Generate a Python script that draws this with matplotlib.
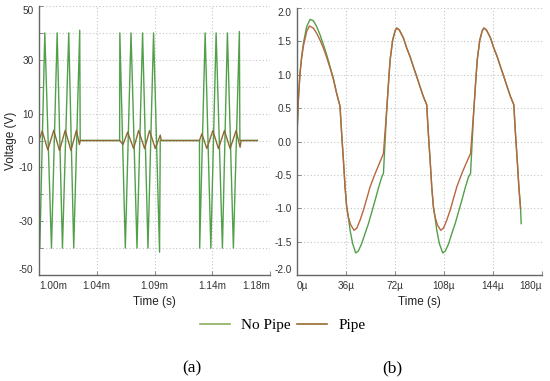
import numpy as np
import matplotlib
matplotlib.use("Agg")
import matplotlib.pyplot as plt
from matplotlib.lines import Line2D

plt.rcParams['font.family'] = ['Liberation Sans', 'DejaVu Sans']
plt.rcParams['axes.unicode_minus'] = False

# ---- panel (a): burst signal, time in ms, voltage in V ----
t_a_nopipe = [1.0, 1.00062, 1.00451, 1.00972, 1.01415, 1.01827, 1.02317, 1.02706, 1.03173, 1.0321,
              1.06283, 1.06299, 1.06726, 1.07170, 1.07636, 1.08072, 1.08491, 1.08927, 1.09393, 1.09448,
              1.12504, 1.12520, 1.12947, 1.13390, 1.13802, 1.14292, 1.14681, 1.15148, 1.15614, 1.15653,
              1.17014]
v_a_nopipe = [-30, -40, 40, -40, 40, -40, 40, -40, 41, 0,
              0, 40, -40, 40, -40, 40, -40, 40, -41.5, 0,
              0, -40, 40, -40, 40, -40, 40, -40, 40.5, 0,
              0]

t_a_pipe = [1.0, 1.00249, 1.00684, 1.01151, 1.01594, 1.02045, 1.02488, 1.02916, 1.03149, 1.03212,
            1.06283, 1.06547, 1.06905, 1.07372, 1.07760, 1.08227, 1.08616, 1.09059, 1.09448, 1.09526,
            1.12504, 1.12691, 1.13079, 1.13546, 1.13981, 1.14448, 1.14891, 1.15358, 1.15669, 1.15747,
            1.17014]
v_a_pipe = [0, 3.5, -3.5, 3.8, -3.7, 3.8, -3.7, 3.8, -1.5, 0,
            0, -1.5, 3.1, -3.0, 3.7, -3.0, 3.7, -3.0, 2.0, 0,
            0, 2.5, -3.0, 3.7, -3.0, 3.7, -3.0, 3.7, -2.5, 0,
            0]

a_xticks = [1.0, 1.045, 1.09, 1.135, 1.18]
a_xlabels = ['1.00m', '1.04m', '1.09m', '1.14m', '1.18m']
a_yticks = [-50, -40, -30, -20, -10, 0, 10, 20, 30, 40, 50]
a_ylabels = ['-50', '', '-30', '', '-10', '0', '10', '', '30', '', '50']

# ---- panel (b): zoomed waveform, time in us ----
t_b_nopipe = [0, 1.0, 2.2, 3.4, 4.7, 7.1, 9.6, 12.0, 14.5, 16.9, 19.4, 21.8, 24.3, 26.7, 29.2, 31.6,
              32.8, 34.1, 35.3, 36.5, 37.7, 39.0, 40.9, 43.1, 45.1, 47.5, 50.0, 52.5, 54.9, 57.4, 59.8, 62.3, 63.5,
              65.9, 67.2, 68.4, 70.3, 72.1, 73.3, 75.2, 78.2, 80.6, 83.1, 85.5, 88.0, 90.4, 92.9, 95.3,
              96.5, 97.8, 99.0, 100.2, 101.4, 102.7, 104.6, 107.1, 109.0, 111.4, 113.7, 116.2, 118.6, 121.1, 123.5, 126.0, 127.5,
              129.9, 131.2, 132.4, 134.3, 136.1, 137.3, 139.2, 142.2, 144.6, 147.1, 149.5, 152.0, 154.4, 156.9, 159.3,
              160.5, 161.8, 163.0, 164.2, 164.7]
v_b_nopipe = [0.1, 0.62, 1.02, 1.27, 1.47, 1.72, 1.83, 1.81, 1.72, 1.6, 1.45, 1.3, 1.12, 0.95, 0.72, 0.53,
              0.12, -0.28, -0.68, -0.98, -1.13, -1.33, -1.53, -1.67, -1.64, -1.53, -1.38, -1.23, -1.06, -0.88, -0.7, -0.53, -0.48,
              0.47, 0.87, 1.22, 1.52, 1.66, 1.70, 1.67, 1.55, 1.4, 1.27, 1.12, 0.97, 0.82, 0.67, 0.55,
              0.12, -0.28, -0.68, -0.98, -1.13, -1.33, -1.53, -1.67, -1.64, -1.53, -1.38, -1.23, -1.06, -0.88, -0.7, -0.53, -0.48,
              0.47, 0.87, 1.22, 1.52, 1.66, 1.70, 1.67, 1.55, 1.4, 1.27, 1.12, 0.97, 0.82, 0.67, 0.55,
              0.12, -0.28, -0.68, -0.98, -1.23]

t_b_pipe = [0, 1.0, 2.2, 3.4, 4.7, 7.1, 9.1, 12.0, 14.5, 16.9, 19.4, 21.8, 24.3, 26.7, 29.2, 31.6,
            32.8, 34.1, 35.3, 36.5, 37.7, 39.5, 41.9, 43.9, 46.3, 48.8, 51.2, 53.7, 57.4, 60.5, 63.5,
            65.9, 67.2, 68.4, 70.3, 72.1, 73.3, 75.2, 78.2, 80.6, 83.1, 85.5, 88.0, 90.4, 92.9, 95.3,
            96.5, 97.8, 99.0, 100.2, 101.4, 103.2, 105.6, 107.6, 110.0, 112.5, 114.9, 117.4, 121.1, 124.2, 127.5,
            129.9, 131.2, 132.4, 134.3, 136.1, 137.3, 139.2, 142.2, 144.6, 147.1, 149.5, 152.0, 154.4, 156.9, 159.3,
            160.5, 161.8, 163.0, 164.2]
v_b_pipe = [0.1, 0.62, 1.02, 1.25, 1.43, 1.65, 1.73, 1.7, 1.62, 1.52, 1.4, 1.26, 1.1, 0.93, 0.71, 0.53,
            0.12, -0.28, -0.68, -0.98, -1.13, -1.25, -1.33, -1.3, -1.18, -1.03, -0.86, -0.68, -0.48, -0.33, -0.18,
            0.47, 0.87, 1.22, 1.52, 1.66, 1.70, 1.67, 1.55, 1.4, 1.27, 1.12, 0.97, 0.82, 0.67, 0.55,
            0.12, -0.28, -0.68, -0.98, -1.13, -1.25, -1.33, -1.3, -1.18, -1.03, -0.86, -0.68, -0.48, -0.33, -0.18,
            0.47, 0.87, 1.22, 1.52, 1.66, 1.70, 1.67, 1.55, 1.4, 1.27, 1.12, 0.97, 0.82, 0.67, 0.55,
            0.12, -0.28, -0.68, -1.0]

b_xticks = [0, 36, 72, 108, 144, 180]
b_xlabels = ['0µ', '36µ', '72µ', '108µ', '144µ', '180µ']
b_yticks = [-2.0, -1.5, -1.0, -0.5, 0.0, 0.5, 1.0, 1.5, 2.0]
b_ylabels = ['-2.0', '-1.5', '-1.0', '-0.5', '0.0', '0.5', '1.0', '1.5', '2.0']

GREEN = '#52a04a'
RED = '#b8663f'


def style_axes(ax, xticks, xlabels, yticks, ylabels):
    ax.set_xticks(xticks, xlabels)
    ax.set_yticks(yticks, ylabels)
    ax.grid(True, color='#c4c4c4', linestyle=(0, (1, 2)), linewidth=0.8)
    for s in ['top', 'right']:
        ax.spines[s].set_visible(False)
    for s in ['left', 'bottom']:
        ax.spines[s].set_color('#666666')
        ax.spines[s].set_linewidth(1.0)
    ax.tick_params(direction='in', length=3, width=0.6, colors='#777777',
                   labelcolor='#333333', labelsize=7.2, pad=4)
    xl = ax.get_xticklabels()
    xl[0].set_ha('left')
    xl[-1].set_ha('right')
    yl = ax.get_yticklabels()
    yl[0].set_va('bottom')
    yl[-1].set_va('top')
    ax.set_xlabel('Time (s)', fontsize=8.5, color='#222222', labelpad=4)


fig = plt.figure(figsize=(5.5, 3.81), dpi=100)
ax1 = fig.add_axes([39 / 550, 1 - 275 / 381, 231 / 550, 269 / 381])
ax2 = fig.add_axes([297 / 550, 1 - 275 / 381, 245 / 550, 267 / 381])

ax1.plot(t_a_nopipe, v_a_nopipe, color=GREEN, linewidth=1.0)
ax1.plot(t_a_pipe, v_a_pipe, color='#8a6a35', linewidth=1.0)
ax1.set_xlim(1.0, 1.18)
ax1.set_ylim(-50, 50)
style_axes(ax1, a_xticks, a_xlabels, a_yticks, a_ylabels)
ax1.set_ylabel('Voltage (V)', fontsize=8.5, color='#222222')
ax1.yaxis.set_label_coords(-0.095, 0.5)

ax2.plot(t_b_nopipe, v_b_nopipe, color=GREEN, linewidth=1.0)
ax2.plot(t_b_pipe, v_b_pipe, color=RED, linewidth=1.0)
ax2.set_xlim(0, 180)
ax2.set_ylim(-2.0, 2.0)
style_axes(ax2, b_xticks, b_xlabels, b_yticks, b_ylabels)

handles = [Line2D([], [], color='#8cae5c', linewidth=1.2),
           Line2D([], [], color='#9a6a2c', linewidth=1.2)]
fig.legend(handles, ['No Pipe', 'Pipe'], loc='center', bbox_to_anchor=(282.5 / 550, 1 - 325 / 381),
           ncol=2, frameon=False, handlelength=2.0, handletextpad=0.7, columnspacing=0.4,
           prop={'family': 'Liberation Serif', 'size': 11})

fig.text(192 / 550, 1 - 368 / 381, '(a)', ha='center', va='center', family='Liberation Serif', fontsize=12.5)
fig.text(392 / 550, 1 - 368 / 381, '(b)', ha='center', va='center', family='Liberation Serif', fontsize=12.5)

fig.savefig('out.png', dpi=100)
